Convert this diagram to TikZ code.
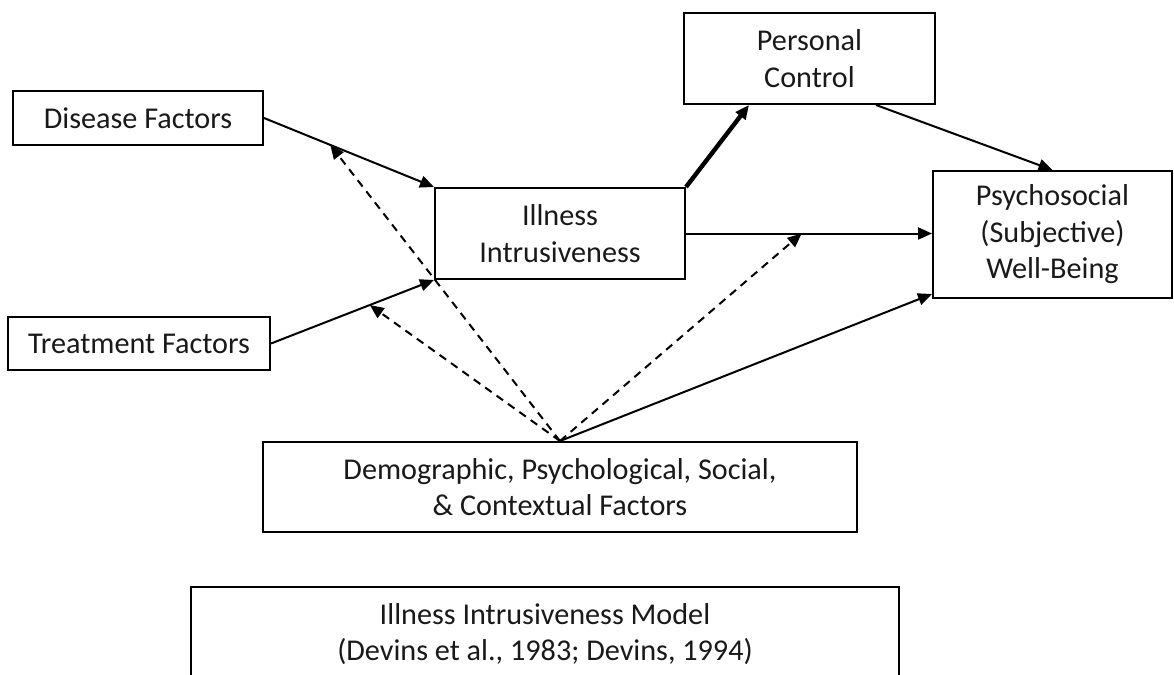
\documentclass[tikz,border=0pt]{standalone}
\usepackage{fontspec}
\setmainfont{Carlito}
\usetikzlibrary{arrows.meta,calc}

\begin{document}
\begin{tikzpicture}[
  x=0.5pt, y=-0.5pt,
  every node/.style={font=\fontsize{15.1}{18.2}\selectfont, align=center, inner sep=0pt, text=black!90},
  box/.style={draw=black, line width=1pt},
  link/.style={line width=1pt, -{Triangle[length=7pt,width=6pt]}},
  strong/.style={line width=2.2pt, -{Triangle[length=7pt,width=6pt]}},
  moderator/.style={line width=1pt, dash pattern=on 4pt off 3pt, -{Triangle[length=7pt,width=6pt]}}
]
\useasboundingbox (0,0) rectangle (1174,675);
\clip (0,0) rectangle (1174,675);

% boxes
\node[box, minimum width=125pt, minimum height=27pt] (df) at (138,118) {Disease Factors};
\node[box, minimum width=131pt, minimum height=26.5pt] (tf) at (139,343.5) {Treatment Factors};
\node[box, minimum width=125pt, minimum height=45.5pt] (ii) at (560,233.5) {Illness\\Intrusiveness};
\node[box, minimum width=125.5pt, minimum height=45.5pt] (pc) at (809.5,58.5) {Personal\\Control};
\node[box, minimum width=119.5pt, minimum height=63.5pt] (pw) at (1052.5,234.5) {Psychosocial\\(Subjective)\\Well-Being};
\node[box, minimum width=297pt, minimum height=45pt] (dm) at (560,487) {Demographic, Psychological, Social,\\\& Contextual Factors};
\node[box, minimum width=354pt, minimum height=47pt] (im) at (545,634) {Illness Intrusiveness Model\\(Devins et al., 1983; Devins, 1994)};

% direct paths
\draw[link] (df.east) -- (ii.north west);
\draw[link] (tf.east) -- (ii.south west);
\draw[strong] (ii.north east) -- ($(pc.south west)+(66,0)$);
\draw[link] ($(pc.south west)+(193,0)$) -- (pw.north);
\draw[link] (ii.east) -- (ii.east -| pw.west);
\draw[link] (dm.north) -- ($(pw.south west)+(0,-5)$);

% moderating effects on the paths
\coordinate (mdf) at ($(df.east)!0.39!(ii.north west)$);
\coordinate (mtf) at ($(tf.east)!0.606!(ii.south west)$);
\coordinate (mii) at ($(ii.east)!0.47!(ii.east -| pw.west)$);
\draw[moderator] (dm.north) -- (mdf);
\draw[moderator] (dm.north) -- (mtf);
\draw[moderator] (dm.north) -- (mii);
\end{tikzpicture}
\end{document}
